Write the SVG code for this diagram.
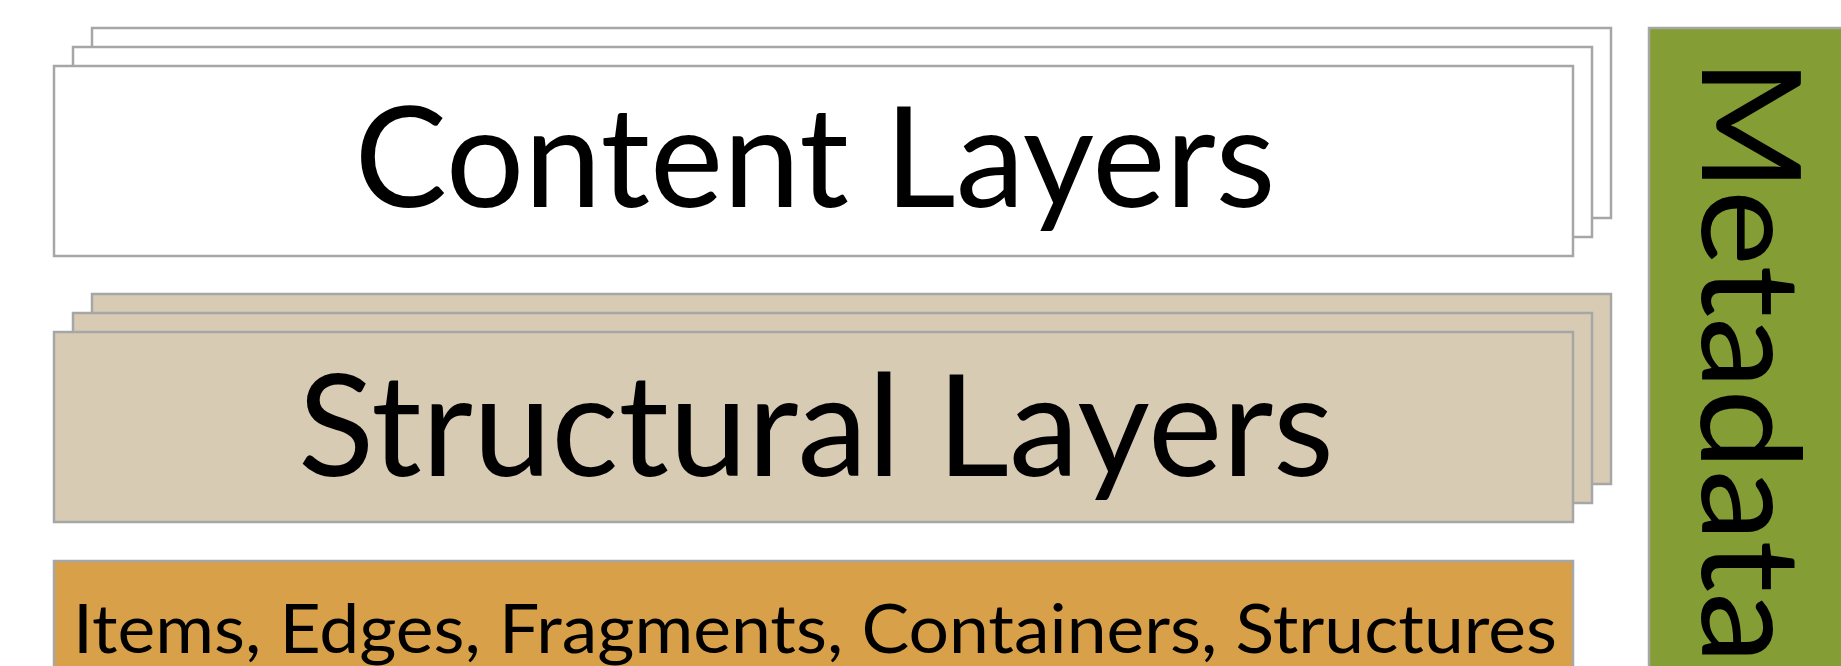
<svg xmlns="http://www.w3.org/2000/svg" width="1841" height="666" viewBox="0 0 1841 666">
  <style>
    .frame { stroke: #a6a6a6; stroke-width: 2.5; }
    .content { fill: #ffffff; }
    .structural { fill: #d7cbb3; }
    .base { fill: #d9a04a; }
    .meta { fill: #849d34; }
    .label { font-family: Lato, "Open Sans", "Liberation Sans", sans-serif; fill: #000000; }
  </style>
  <rect width="1841" height="666" fill="#ffffff"/>

  <!-- stacked content layers -->
  <g id="content-layers">
    <rect class="frame content" x="92" y="28" width="1519" height="190"/>
    <rect class="frame content" x="73" y="47" width="1519" height="190"/>
    <rect class="frame content" x="54" y="66" width="1519" height="190"/>
    <text class="label" x="815" y="207" font-size="139" text-anchor="middle" textLength="921" lengthAdjust="spacingAndGlyphs">Content Layers</text>
  </g>

  <!-- stacked structural layers -->
  <g id="structural-layers">
    <rect class="frame structural" x="92" y="294" width="1519" height="190"/>
    <rect class="frame structural" x="73" y="313" width="1519" height="190"/>
    <rect class="frame structural" x="54" y="332" width="1519" height="190"/>
    <text class="label" x="816" y="476" font-size="141" text-anchor="middle" textLength="1036" lengthAdjust="spacingAndGlyphs">Structural Layers</text>
  </g>

  <!-- base building blocks -->
  <g id="base-items">
    <rect class="frame base" x="54" y="561" width="1519" height="130"/>
    <text class="label" x="815" y="653" font-size="67" text-anchor="middle" textLength="1484" lengthAdjust="spacingAndGlyphs">Items, Edges, Fragments, Containers, Structures</text>
  </g>

  <!-- metadata side bar -->
  <g id="metadata">
    <rect class="frame meta" x="1649" y="28" width="210" height="660"/>
    <text class="label" transform="translate(1702,58) rotate(90)" x="0" y="0" font-size="137" textLength="606" lengthAdjust="spacingAndGlyphs">Metadata</text>
  </g>

  <g id="connectors"/>
</svg>
